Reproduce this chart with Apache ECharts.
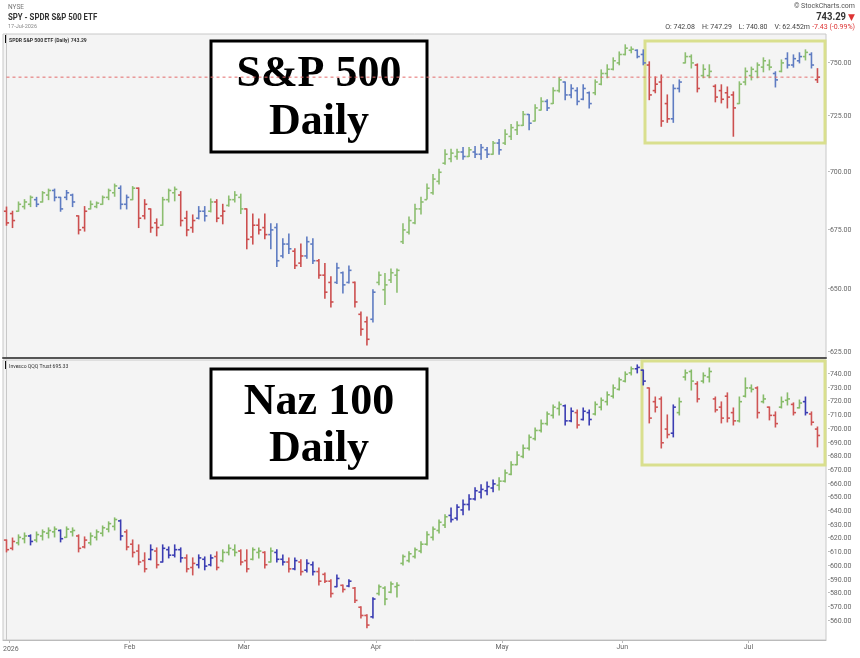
<!DOCTYPE html>
<html>
<head>
<meta charset="utf-8">
<script src="https://cdn.jsdelivr.net/npm/echarts@6/dist/echarts.min.js"></script>
<style>
  html, body { margin: 0; padding: 0; background: #fff; }
  #chart { width: 860px; height: 658px; }
</style>
</head>
<body>
<div id="chart"></div>
<script>
// trading days shown: Dec 31 2025, then Jan 2 - Jul 17 2026
const monthNames = ["Dec", "2026", "Feb", "Mar", "Apr", "May", "Jun", "Jul"];
const monthDays = [
  [31],
  [2, 5, 6, 7, 8, 9, 12, 13, 14, 15, 16, 20, 21, 22, 23, 26, 27, 28, 29, 30],
  [2, 3, 4, 5, 6, 9, 10, 11, 12, 13, 17, 18, 19, 20, 23, 24, 25, 26, 27],
  [2, 3, 4, 5, 6, 9, 10, 11, 12, 13, 16, 17, 18, 19, 20, 23, 24, 25, 26, 27, 30, 31],
  [1, 2, 6, 7, 8, 9, 10, 13, 14, 15, 16, 17, 20, 21, 22, 23, 24, 27, 28, 29, 30],
  [1, 4, 5, 6, 7, 8, 11, 12, 13, 14, 15, 18, 19, 20, 21, 22, 26, 27, 28, 29],
  [1, 2, 3, 4, 5, 8, 9, 10, 11, 12, 15, 16, 17, 18, 22, 23, 24, 25, 26, 29, 30],
  [1, 2, 6, 7, 8, 9, 10, 13, 14, 15, 16, 17]
];

const spyTicks = [625, 650, 675, 700, 725, 750];
const qqqTicks = [560, 570, 580, 590, 600, 610, 620, 630, 640, 650, 660, 670, 680, 690, 700, 710, 720, 730, 740];
const spyLast = 743.29;

// SPY daily bars [open, high, low, close]
const spyOHLC = [
  [683,684.8,677,678],[682,683,676,679],[683,687,683,686],[685,688,684,687],[686,689.6,685,689],
  [688,689,685,686],[687,691.5,687,691],[690,692.6,688,692],[692,692.6,687.5,689],[689,689,683,684],
  [689,692,688,691],[690,690.4,685,687],[681,681,673.3,675],[676,685,674.5,683],[684,687.4,684,686],
  [685,687,684.5,686.5],[686,689.6,686,689],[689,692.6,688,692],[691,694.8,689.5,694],[693,694,684,686],
  [686,690,684,689],[688,693.7,688,693],[693,693.1,676,680],[681,688,679.7,686],[684,684,674,676],
  [678,679.7,672.5,676],[677,689,677,688],[688,692.6,687,692],[691,693.5,687.5,692.5],[690,691.5,676.7,679],
  [680,683,672.5,675],[676,681.4,674,679],[680,685,679.7,683],[683,685,678.8,681],[683,688.3,682.7,687],
  [687,688,678.5,680],[681,686,677.6,683],[685.5,689.6,685.2,688],[688,691.5,687,690],[689,690.4,682,684],
  [684,684,667,671],[672,681.8,669,677],[677,679.7,673.3,675],[676,681.8,671.2,673],[673,677.6,667,675],
  [676,677.6,659.6,662],[664,671.2,663.3,669],[669,673.3,665,667],[666,667,658.8,660],[661,669,659.6,664],
  [664,672,663,670],[669,671.2,660.8,662],[662,662.5,654.7,656],[656,660.8,646.5,649],[653,655.3,643,645],
  [653,661,652.6,659],[657,657.3,648.7,652],[653,659.8,652.8,658],[653,653.2,643,645],[640,640.9,631.6,634],
  [637,638.9,627.7,630],[638,650,636.9,649],[653,657.3,652,656],[650,656.7,644,652],[654,658.6,653,657],
  [656,658.6,649,658],[670,677.6,669.2,675],[674,680.5,673.3,679],[678,686,677.6,684],[684,689,681.8,687],
  [688,694.8,688.3,693],[691,699,690.4,697],[696,701.3,694.8,700],[704,710,703.5,708],[706,710.2,704.7,708.5],
  [707,710.2,705.8,709],[709,711,705.8,707],[707,711,707,710],[709,711.5,706.5,708],[708,712.4,705.8,711],
  [710,711,706.5,708],[708,713.7,708,713],[713,714.6,708,710],[713,719,712.4,717],[716,721.4,714.6,720],
  [719,722.7,716.9,721],[721,727.3,721,726],[726,726,719,722],[723,730.5,723,729],[728,733.7,728,732],
  [732,732.8,727.8,729],[731,738.3,731,737],[737,743,736.4,742],[741,741,732.8,735],[735,739.7,733.7,738],
  [737,738.3,730.5,732],[733,739.7,732.8,738],[736,736.4,729,731],[736,742,735.1,741],[740,746.7,739.7,745],
  [745,749.1,743,747],[747,752.4,746.7,751],[750,755.2,749.1,754],[754,758.6,753.8,757],[756,757.6,754.8,756.5],
  [756,756.2,752.4,753],[754,756.2,749.1,750],[749,750.5,732.8,735],[737,743.4,736,740],[741,744.3,720.6,723],
  [731,735,722.4,724],[724,739.7,722.4,738],[738,742,736.4,741],[750,754.8,750,753],[753,753.8,747.6,750],
  [749,749.5,736.4,738],[744,749.1,743,747],[744,749.1,743,746],[739,739.7,731.8,734],[737,739.7,731.3,733],
  [736,738.7,729,734],[735,736.4,716.1,729],[731,741.1,731,740],[741,747.6,739.7,746],[744,748,742,747],
  [746,750,743,749],[748,752.4,745.8,751],[749,751.4,746.7,748],[745,745.8,738.7,742],[746,751.4,745.8,750],
  [752,754.8,747.6,749],[749,753.8,748,752],[751,754.8,750,753],[753,756.2,751.4,755],[754,754.8,747.6,749],
  [742.08,747.29,740.80,743.29]
];
const spyColor = "rrgggbggbb" + "bbrrgggggb" + "bgrrrrgggr" + "rrbbgrrggg" + "rrrrbbbbrr" +
  "bbrrrbbbrr" + "rbgggggggg" + "ggggggbgbb" + "bgbggggbgg" + "bggbbbbbgg" +
  "gggggbbrrr" + "rbbggrggrr" + "rrggggggbg" + "bbbgbr";

// QQQ daily bars [open, high, low, close]
const qqqOHLC = [
  [619,619.1,610.4,612],[613,620.5,611.9,618],[617,622.8,615.5,621],[620,624.2,617,622],[622,622.8,615.5,618],
  [619,624.9,617.7,623],[622,626.4,619.1,625],[624,627.9,620.6,626],[625,628.6,621.3,627],[626,626.4,617.7,620],
  [621,628.6,621,627],[625,627.9,622,626],[622,622.8,610.4,613],[614,621.3,613.3,619],[617,624.2,615.5,622],
  [621,626.4,619.1,625],[624,629.3,622,628],[627,632.3,625,631],[629,635.2,626.4,634],[633,633.7,619.1,622],
  [625,626.4,611.9,614],[616,619.1,606.7,610],[611,615.5,601,603],[604,609.7,595.8,598],[605,615.5,604.6,612],
  [611,613.3,598.7,601],[603,615.5,603,613],[612,614,606,608],[608,615.5,606.7,612],[612,613.3,603,606],
  [606,608.2,595.8,598],[599,606,593.6,602],[601,608.2,598.7,606],[605,606.7,597.3,600],[601,608.2,600.2,606],
  [607,610.4,597.3,599],[604,611.9,603.1,610],[610,615.5,608.2,613],[612,615.5,607.5,610],[611,611.9,600.9,603],
  [604,611.9,595.8,598],[605,613.3,604.6,612],[610,613.3,606,611],[610,610.4,598.7,601],[603,613.3,603,611],
  [610,611.9,603.1,605],[605,608.2,600.9,603],[603,606,595.8,598],[598,606,597.3,604],[603,604.6,593.6,596],
  [597,604.6,595.8,602],[601,603,593.6,596],[596,598.7,586.3,589],[594,595,588,589],[589,590,577.5,580],
  [585,593.6,584.9,591],[586,586.3,581.2,583],[585.5,590,584.9,589],[584,584.4,573.4,575],[570,570.3,562.2,564],
  [564,564.5,555,557],[563,577,562.2,576],[580,586.3,579,585],[584,585,571.8,576],[581,588.5,580.5,587],
  [585,587.8,577.5,586],[602,608.2,600.9,607],[604,610.4,603.1,609],[607,613.3,606,612],[611,617.7,609.7,616],
  [616,625,615.5,623],[621,628.6,619.1,627],[626,633.7,624.2,632],[630,637.4,628.2,636],[637,642.5,632.2,634],
  [635,644.7,633.7,643],[641,648.3,637.4,645],[645,652,641,649],[649,657.1,648.3,655],[654,659.3,649.8,656],
  [655,661.4,652,658],[657,662.9,654.2,660],[659,664.4,655.6,662],[662,670.2,661.4,668],[667,676.1,666.6,674],
  [674,683.4,673.9,681],[680,688.4,679,686],[686,695.7,684.8,694],[693,700.8,692.1,699],[699,706.7,697.9,704],
  [704,712.5,703,711],[710,717.6,708.1,716],[715,719.8,710.3,718],[717,717.6,703,706],[706,715.4,705.3,713],
  [712,714,700.8,703],[707,715.4,706.7,713],[712,714,703,707],[711,719.8,710.3,718],[716,722.7,714,721],
  [720,727.1,717.6,725],[724,732.2,722.7,730],[729,737.3,728.5,736],[735,741.7,734.4,740],[741,745.3,739.5,744],
  [744,746.8,741,745],[743,743.1,732.2,735],[730,730,704.5,708],[720,723.4,712.5,716],[722,723.4,686.2,690],
  [700,710.3,693.6,696],[697,717.6,694.3,716],[712,722.7,710.3,720],[738,743.1,735.8,741],[742,743.1,728.5,735],
  [733,734.5,719.8,722],[735,741,733.7,739],[738,744.6,734.4,742],[722,723.4,712.5,714],[716,719.8,704.5,708],
  [724,726.4,705.2,708],[712,715.4,703,706],[706,723.4,705.2,720],[724,737.3,723.4,730],[730,732.2,727.1,729],
  [730,730.8,708.1,712],[720,724.9,719.1,722],[716,716.1,706.7,710],[710,712.5,701.5,704],[716,723.4,715.4,720],
  [721,726.4,717.6,722],[718,719.1,710.3,712],[715.5,721.2,715.4,719],[720,723.4,710.3,712],[711,712.5,703,705],
  [700,701.5,687,695.33]
];
const qqqColor = "rrggbggggb" + "ggrrgggggb" + "rrrrbrbbbb" + "rrbbbrgggr" + "rggrgbbrbr" +
  "bbrrrbrbrr" + "rbgggggggg" + "ggggbbbbbb" + "bbgggggggg" + "gggbbrbbgg" +
  "gggggbbrrr" + "rbgggrggrr" + "rrgggrgrrg" + "grgbrr";

const spyColors = { g: "#8cbe70", r: "#cc4f4f", b: "#5f7cc2" };
const qqqColors = { g: "#86bb68", r: "#cf5555", b: "#3b3db2" };

// month tick positions sit at the left edge of each month's first bar
const monthTicks = [];
let count = 0;
monthDays.forEach(function (d, m) {
  if (m > 0) monthTicks.push(count - 0.5);
  count += d.length;
});
const monthLabels = monthNames.slice(1);

const spyData = spyOHLC.map(function (b, i) {
  return [i, Math.log(b[0]), Math.log(b[1]), Math.log(b[2]), Math.log(b[3])];
});
const qqqData = qqqOHLC.map(function (b, i) {
  return [i, b[0], b[1], b[2], b[3]];
});
const spyLastLine = spyOHLC.map(function (b, i) {
  return [i, Math.log(spyLast)];
});

function renderOHLC(colors, palette) {
  return function (params, api) {
    const i = api.value(0);
    const o = api.coord([i, api.value(1)]);
    const h = api.coord([i, api.value(2)]);
    const l = api.coord([i, api.value(3)]);
    const c = api.coord([i, api.value(4)]);
    const col = palette[colors[params.dataIndex]];
    const st = { stroke: col, lineWidth: 1.6 };
    return {
      type: "group",
      children: [
        { type: "line", shape: { x1: h[0], y1: h[1] - 0.5, x2: l[0], y2: l[1] + 0.5 }, style: st },
        { type: "line", shape: { x1: o[0] - 2.6, y1: o[1], x2: o[0], y2: o[1] }, style: st },
        { type: "line", shape: { x1: c[0], y1: c[1], x2: c[0] + 2.6, y2: c[1] }, style: st }
      ]
    };
  };
}

const chart = echarts.init(document.getElementById("chart"));

const xCommon = {
  type: "value",
  min: -0.583,
  max: 136.42,
  splitLine: { show: false }
};

const option = {
  animation: false,
  backgroundColor: "#fff",
  grid: [
    { left: 3, top: 34, width: 823, height: 324, show: true, backgroundColor: "#f4f4f4", borderColor: "#c8c8c8", borderWidth: 1 },
    { left: 3, top: 360, width: 823, height: 280, show: true, backgroundColor: "#f4f4f4", borderColor: "#c8c8c8", borderWidth: 1 }
  ],
  xAxis: [
    Object.assign({}, xCommon, {
      gridIndex: 0,
      axisLine: { show: true, lineStyle: { color: "#555", width: 2 } },
      axisTick: { show: false },
      axisLabel: { show: false }
    }),
    Object.assign({}, xCommon, {
      gridIndex: 1,
      axisLine: { show: true, lineStyle: { color: "#bbb", width: 1 } },
      axisTick: { show: true, customValues: monthTicks, length: 3, lineStyle: { color: "#bbb" } },
      axisLabel: {
        show: true,
        customValues: monthTicks,
        fontSize: 7,
        color: "#666",
        margin: 4,
        fontFamily: "Roboto",
        formatter: function (v) {
          const k = monthTicks.findIndex(function (t) { return Math.abs(t - v) < 0.01; });
          return k > 0 ? monthLabels[k] : "";
        }
      }
    })
  ],
  yAxis: [
    {
      type: "value",
      gridIndex: 0,
      position: "right",
      min: Math.log(622.6),
      max: Math.log(763.8),
      splitLine: { show: false },
      axisLine: { show: true, lineStyle: { color: "#c8c8c8" } },
      axisTick: { show: false },
      axisLabel: {
        customValues: spyTicks.map(Math.log),
        fontSize: 7,
        color: "#666",
        margin: 2,
        fontFamily: "Roboto",
        formatter: function (v) { return "-" + Math.exp(v).toFixed(2); }
      }
    },
    {
      type: "value",
      gridIndex: 1,
      position: "right",
      min: 546.1,
      max: 750.4,
      splitLine: { show: false },
      axisLine: { show: true, lineStyle: { color: "#c8c8c8" } },
      axisTick: { show: false },
      axisLabel: {
        customValues: qqqTicks,
        fontSize: 7,
        color: "#666",
        margin: 2,
        fontFamily: "Roboto",
        formatter: function (v) { return "-" + v.toFixed(2); }
      }
    }
  ],
  series: [
    {
      name: "SPY last",
      type: "line",
      xAxisIndex: 0,
      yAxisIndex: 0,
      data: spyLastLine,
      symbol: "none",
      silent: true,
      lineStyle: { color: "#e46a6a", type: [3, 3], width: 1 }
    },
    {
      name: "SPY",
      type: "custom",
      xAxisIndex: 0,
      yAxisIndex: 0,
      data: spyData,
      renderItem: renderOHLC(spyColor, spyColors)
    },
    {
      name: "QQQ",
      type: "custom",
      xAxisIndex: 1,
      yAxisIndex: 1,
      data: qqqData,
      renderItem: renderOHLC(qqqColor, qqqColors)
    }
  ],
  graphic: [
    // header
    { type: "text", x: 8, y: 4, style: { text: "NYSE", fontSize: 6.5, fill: "#777", fontFamily: "Roboto" } },
    { type: "text", x: 8, y: 13, scaleX: 0.82, style: { text: "SPY - SPDR S&P 500 ETF", fontSize: 9.5, fontWeight: "bold", fill: "#333", fontFamily: "Roboto" } },
    { type: "text", x: 8, y: 24, style: { text: "17-Jul-2026", fontSize: 5.5, fill: "#888", fontFamily: "Roboto" } },
    { type: "text", x: 855, y: 3, style: { text: "© StockCharts.com", fontSize: 7, fill: "#555", fontFamily: "Roboto", align: "right" } },
    { type: "text", x: 846, y: 12, scaleX: 0.9, style: { text: "743.29", fontSize: 10.5, fontWeight: "bold", fill: "#333", fontFamily: "Roboto", align: "right" } },
    { type: "text", x: 855, y: 13, style: { text: "▼", fontSize: 9, fill: "#d33", fontFamily: "DejaVu Sans", align: "right" } },
    { type: "text", x: 810, y: 24, style: { text: "O: 742.08    H: 747.29    L: 740.80    V: 62.452m", fontSize: 7, fill: "#444", fontFamily: "Roboto", align: "right" } },
    { type: "text", x: 855, y: 24, style: { text: "-7.43 (-0.99%)", fontSize: 7, fill: "#d33", fontFamily: "Roboto", align: "right" } },
    // panel titles
    { type: "rect", left: 5, top: 35, shape: { width: 2, height: 8 }, style: { fill: "#111" } },
    { type: "text", x: 9, y: 37, scaleX: 0.85, style: { text: "SPDR S&P 500 ETF (Daily) 743.29", fontSize: 6, fontWeight: "bold", fill: "#333", fontFamily: "Roboto" } },
    { type: "rect", left: 5, top: 361, shape: { width: 2, height: 8 }, style: { fill: "#111" } },
    { type: "text", x: 9, y: 363, scaleX: 0.85, style: { text: "Invesco QQQ Trust 695.33", fontSize: 6, fill: "#333", fontFamily: "Roboto" } },
    { type: "text", x: 3, y: 646, style: { text: monthNames[1], fontSize: 7, fill: "#666", fontFamily: "Roboto" } },
    // yellow highlight boxes
    { type: "rect", shape: { x: 645, y: 41, width: 180, height: 102 }, style: { fill: "none", stroke: "#d9df8e", lineWidth: 3 } },
    { type: "rect", shape: { x: 642, y: 361, width: 183, height: 104 }, style: { fill: "none", stroke: "#d9df8e", lineWidth: 3 } },
    // annotation boxes
    { type: "rect", shape: { x: 211, y: 41, width: 216, height: 111 }, style: { fill: "#fff", stroke: "#000", lineWidth: 3 } },
    { type: "text", x: 319, y: 75, style: { text: "S&P 500", font: "bold 44px 'Liberation Serif'", fill: "#000", align: "center", verticalAlign: "middle" } },
    { type: "text", x: 319, y: 123, style: { text: "Daily", font: "bold 44px 'Liberation Serif'", fill: "#000", align: "center", verticalAlign: "middle" } },
    { type: "rect", shape: { x: 211, y: 369, width: 216, height: 109 }, style: { fill: "#fff", stroke: "#000", lineWidth: 3 } },
    { type: "text", x: 319, y: 403, style: { text: "Naz 100", font: "bold 44px 'Liberation Serif'", fill: "#000", align: "center", verticalAlign: "middle" } },
    { type: "text", x: 319, y: 450, style: { text: "Daily", font: "bold 44px 'Liberation Serif'", fill: "#000", align: "center", verticalAlign: "middle" } }
  ]
};

chart.setOption(option);
window.addEventListener("resize", function () {
  chart.resize();
});
</script>
</body>
</html>
